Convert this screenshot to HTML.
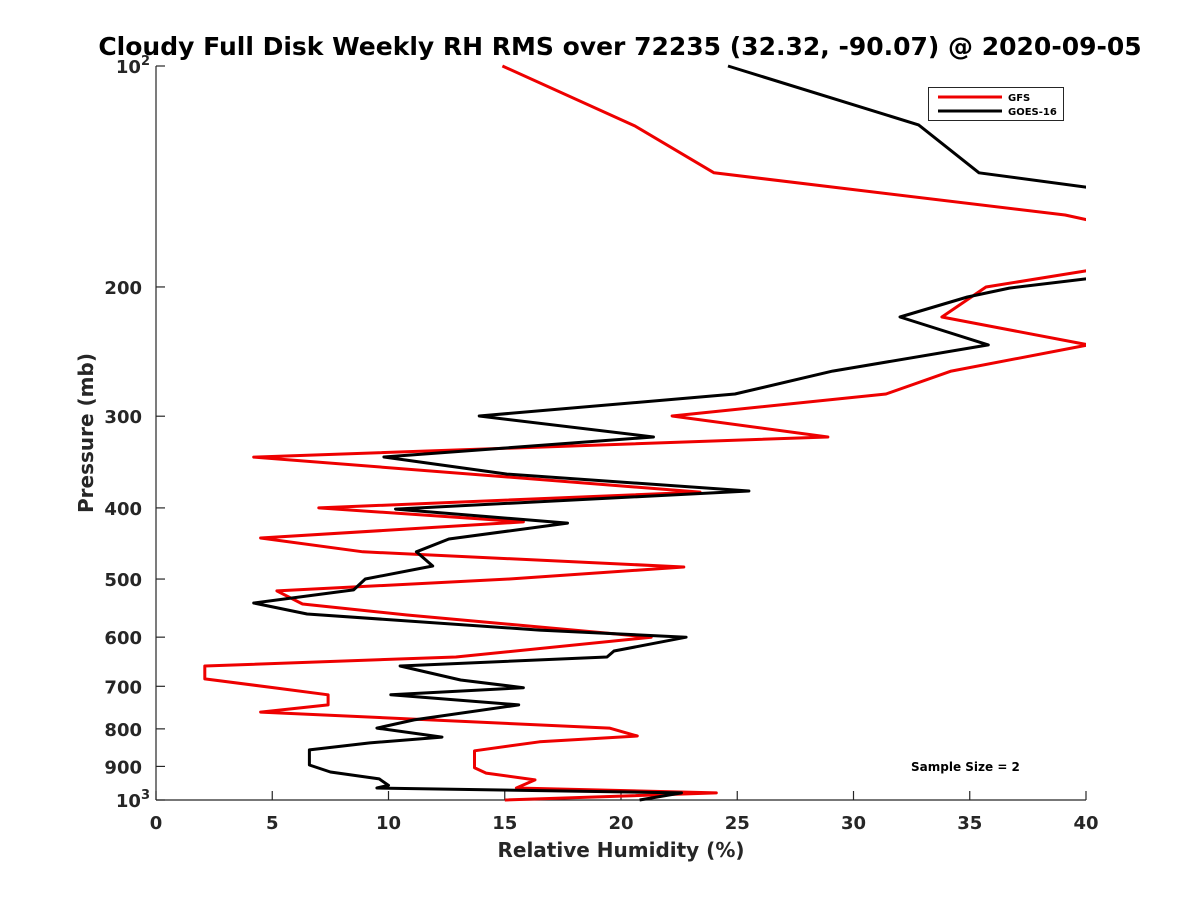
<!DOCTYPE html>
<html><head><meta charset="utf-8"><style>
body{margin:0;background:#fff;}
svg text{font-family:"DejaVu Sans","Liberation Sans",sans-serif;font-weight:bold;fill:#262626;}
</style></head><body>
<svg id="chart" width="1200" height="900" xmlns="http://www.w3.org/2000/svg">
<rect width="1200" height="900" fill="#fff"/>
<text x="620" y="55" text-anchor="middle" font-size="25" style="fill:#000">Cloudy Full Disk Weekly RH RMS over 72235 (32.32, -90.07) @ 2020-09-05</text>
<defs><clipPath id="plotclip"><rect x="156" y="60" width="930" height="745"/></clipPath></defs>
<g id="axes"></g>
<g id="series" clip-path="url(#plotclip)"></g>
<text x="621" y="857" text-anchor="middle" font-size="20">Relative Humidity (%)</text>
<text transform="translate(93,433) rotate(-90)" text-anchor="middle" font-size="20">Pressure (mb)</text>
<text x="911" y="771" font-size="12" style="fill:#000">Sample Size = 2</text>
<g>
<rect x="928.5" y="87.5" width="135" height="33" fill="#fff" stroke="#262626" stroke-width="1"/>
<line x1="938" y1="97" x2="1002" y2="97" stroke="#ee0000" stroke-width="3"/>
<line x1="938" y1="111" x2="1002" y2="111" stroke="#000" stroke-width="3"/>
<text x="1008" y="101" font-size="10" style="fill:#000">GFS</text>
<text x="1008" y="115" font-size="10" style="fill:#000">GOES-16</text>
</g>
</svg>
<script>
const xTicks=[0,5,10,15,20,25,30,35,40];
const yTicks=[100,200,300,400,500,600,700,800,900,1000];
const yTickLabels=["10^2","200","300","400","500","600","700","800","900","10^3"];
const gfsP=[100,120.7,139.8,159.6,163.2,178,190.2,200,219.8,239.9,260.4,279.8,299.8,320.2,341.1,380.6,400,418,439.6,459,481.5,500,519,540.7,559.7,600,638.6,656.9,684,704,719,742,759,798,818,833,857,904,919,939,963,978,1000];
const gfsRH=[14.9,20.6,24.0,39.1,40.5,45,40,35.7,33.8,40.1,34.2,31.4,22.2,28.9,4.2,23.4,7.0,15.8,4.5,8.9,22.7,15.2,5.2,6.3,10.8,21.3,12.9,2.1,2.1,5.2,7.4,7.4,4.5,19.5,20.7,16.5,13.7,13.7,14.2,16.3,15.5,24.1,15.0];
const goesP=[100,120.3,139.8,146.2,170,195,200.7,206.4,219.8,239.9,260.4,279.8,299.8,320.2,341,359.7,379.3,401.5,419.5,441,459,480,500,517.4,539,558,586.8,600,626.6,638.6,656.9,686.4,703,719,742,777.8,798,820.8,836,854.5,896,916,936,955,963,978,1000];
const goesRH=[24.6,32.8,35.4,40,45,40,36.7,34.9,32.0,35.8,29.1,24.9,13.9,21.4,9.8,15.1,25.5,10.3,17.7,12.6,11.2,11.9,9.0,8.5,4.2,6.5,16.5,22.8,19.7,19.4,10.5,13.1,15.8,10.1,15.6,11.1,9.5,12.3,9.2,6.6,6.6,7.5,9.6,10.0,9.5,22.6,20.8];
const X=v=>156+(v/40)*930;
const Y=p=>66+(Math.log10(p)-2)*734;
const NS="http://www.w3.org/2000/svg";
const axes=document.getElementById('axes'),series=document.getElementById('series');
function mk(tag,attrs,parent){const e=document.createElementNS(NS,tag);for(const k in attrs)e.setAttribute(k,attrs[k]);parent.appendChild(e);return e;}
const la=mk('line',{x1:156,y1:66,x2:156,y2:800,stroke:'#262626','stroke-width':1.2},axes);


const ba=mk('line',{x1:156,y1:800,x2:1086,y2:800,stroke:'#262626','stroke-width':1.2},axes);


xTicks.forEach(v=>{
  mk('line',{x1:X(v),y1:800,x2:X(v),y2:791,stroke:'#262626','stroke-width':1.2},axes);
  const t=mk('text',{x:X(v),y:829,'text-anchor':'middle','font-size':18},axes);
  t.textContent=v;
  
  
});
yTicks.forEach((p,i)=>{
  mk('line',{x1:156,y1:Y(p),x2:165,y2:Y(p),stroke:'#262626','stroke-width':1.2},axes);
  const lab=yTickLabels[i];
  const t=mk('text',{x:142,y:Y(p)+7,'text-anchor':'end','font-size':18},axes);
  
  
  if(lab.indexOf('^')>0){const [b,e]=lab.split('^');
    const s1=document.createElementNS(NS,'tspan');s1.textContent=b;t.appendChild(s1);
    const s2=document.createElementNS(NS,'tspan');s2.setAttribute('dy','-8');s2.setAttribute('font-size','13');s2.textContent=e;t.appendChild(s2);
    t.setAttribute('x',150);
  } else t.textContent=lab;
});
function line(P,V,color,name){
  const pts=P.map((p,i)=>X(V[i]).toFixed(1)+','+Y(p).toFixed(1)).join(' ');
  const pl=mk('polyline',{points:pts,fill:'none',stroke:color,'stroke-width':3,'stroke-linejoin':'round'},series);
  
  
}
line(gfsP,gfsRH,'#ee0000','gfs-line');
line(goesP,goesRH,'#000','goes16-line');
</script>
</body></html>
